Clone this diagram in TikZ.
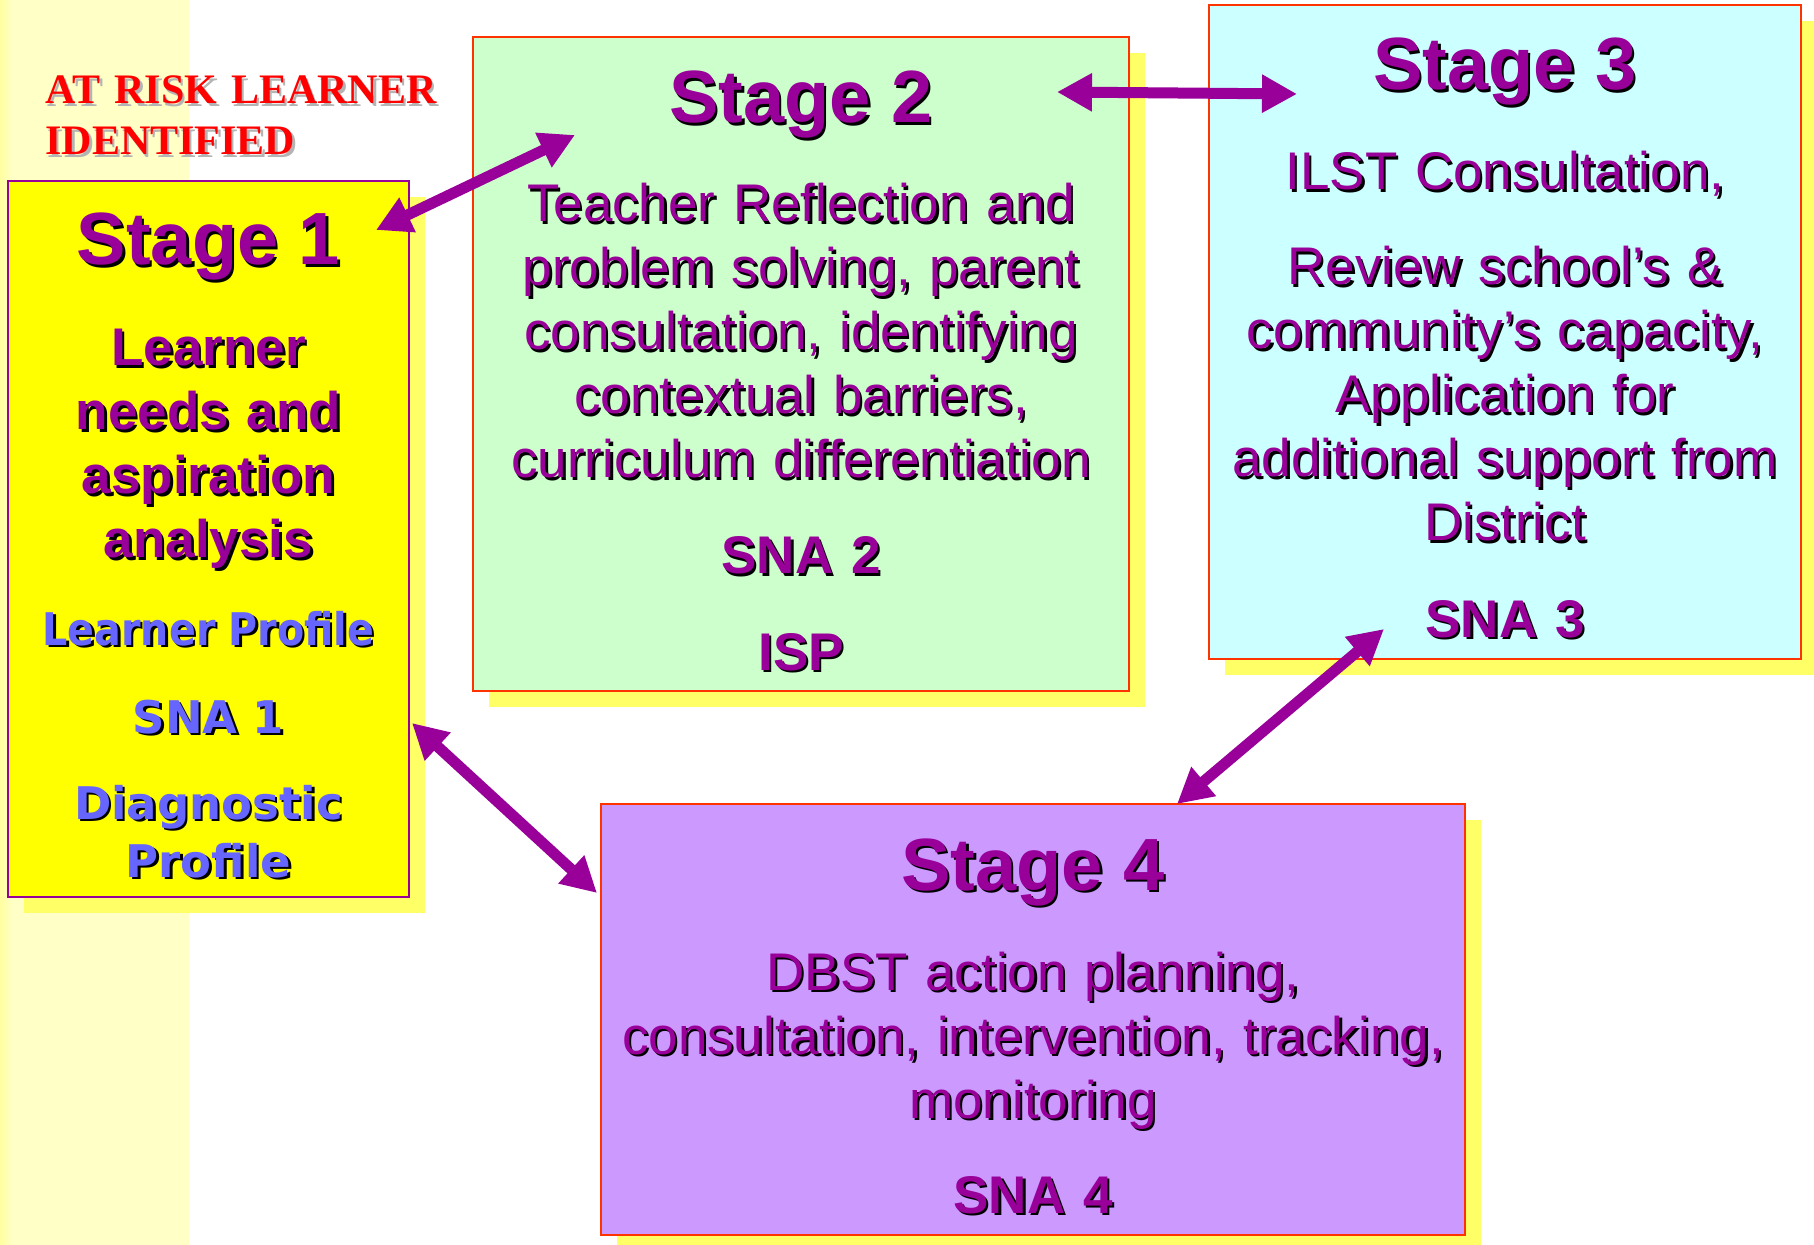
\documentclass[tikz,border=0pt]{standalone}
\usepackage{fontspec}
\setmainfont{Liberation Sans}
\newfontfamily\riskfont{Liberation Serif}
\newfontfamily\profilefont{DejaVu Sans}
\usepackage{graphicx}
\usepackage{tikz}
\usetikzlibrary{arrows.meta, shadows}
\usepackage{xcolor}
\definecolor{stagepurple}{RGB}{153,0,153}
\definecolor{profileblue}{RGB}{102,102,255}
\definecolor{borderred}{RGB}{255,51,0}
\definecolor{riskred}{RGB}{255,0,0}
\definecolor{riskshadow}{RGB}{180,180,180}
\definecolor{stageyellow}{RGB}{255,255,0}
\definecolor{stagegreen}{RGB}{204,255,204}
\definecolor{stagecyan}{RGB}{204,255,255}
\definecolor{stagelilac}{RGB}{204,153,255}
\definecolor{boxshadow}{RGB}{255,255,102}
\definecolor{stripe}{RGB}{255,255,198}
\definecolor{stripedeep}{RGB}{255,255,160}
\tikzstyle{stagebox} = [rectangle, draw=borderred, line width=1.2pt, inner sep=0pt, outer sep=0pt, drop shadow={shadow xshift=8pt, shadow yshift=-8pt, fill=boxshadow, opacity=1}]
\tikzstyle{heading} = [anchor=base, inner sep=0pt, text=stagepurple, font=\bfseries\fontsize{37}{44}\selectfont]
\tikzstyle{body} = [anchor=base, inner sep=0pt, text=stagepurple, text width=440pt, align=center, font=\fontsize{26.5}{32}\selectfont]
\tikzstyle{boldbody} = [body, font=\bfseries\fontsize{26.5}{32}\selectfont]
\tikzstyle{profile} = [body, text=profileblue, font=\profilefont\bfseries\fontsize{22.5}{29}\selectfont]
\tikzstyle{risktitle} = [anchor=base west, inner sep=0pt, text=riskred, text width=220pt, align=left, font=\riskfont\bfseries\fontsize{21}{25.5}\selectfont]
\tikzstyle{twoway} = [line width=5.5pt, draw=stagepurple, {Triangle[length=17.5pt,width=18pt]}-{Triangle[length=17.5pt,width=18pt]}]

% text with an offset shadow copy behind it: [shadow colour]{name}{position}{style}{text}
\newcommand{\shadowlabel}[5][black]{%
  \node [#4, text=#1, xshift=1.2pt, yshift=-1.2pt] at #3 {#5};
  \node (#2) [#4] at #3 {#5};
}

\begin{document}
\begin{tikzpicture}[x=0.5pt, y=-0.5pt]
\useasboundingbox (0,0) rectangle (1814,1245);
\fill[white] (0,0) rectangle (1814,1245);

% pale band on the left
\fill[stripe] (0,0) rectangle (189,1245);
\shade[left color=stripedeep, right color=stripe] (0,0) rectangle (12,1245);

\shadowlabel[riskshadow]{risk}{(45,104)}{risktitle}{AT RISK LEARNER\\IDENTIFIED}

% Stage boxes
\node (stageone) [stagebox, draw=stagepurple, fill=stageyellow, minimum width=200.5pt, minimum height=358pt] at (208.5,539) {};
\node (stagetwo) [stagebox, fill=stagegreen, minimum width=328pt, minimum height=327pt] at (801,364) {};
\node (stagethree) [stagebox, fill=stagecyan, minimum width=296pt, minimum height=327pt] at (1505,332) {};
\node (stagefour) [stagebox, fill=stagelilac, minimum width=432pt, minimum height=215.5pt] at (1033,1019.5) {};

% Stage 1
\shadowlabel{onetitle}{(208.5,265)}{heading}{Stage 1}
\shadowlabel{onetext}{(208.5,366)}{boldbody}{Learner\\needs and\\aspiration\\analysis}
\shadowlabel{oneprofile}{(208.5,645)}{profile}{\scalebox{0.88}[1]{Learner Profile}}
\shadowlabel{onesna}{(208.5,733)}{profile}{SNA 1}
\shadowlabel{onediag}{(208.5,819)}{profile}{Diagnostic\\Profile}

% Stage 2
\shadowlabel{twotitle}{(801,123)}{heading}{Stage 2}
\shadowlabel{twotext}{(801,222)}{body}{Teacher Reflection and\\problem solving, parent\\consultation, identifying\\contextual barriers,\\curriculum differentiation}
\shadowlabel{twosna}{(801,574)}{boldbody}{SNA 2}
\shadowlabel{twoisp}{(801,670)}{boldbody}{ISP}

% Stage 3
\shadowlabel{threetitle}{(1505,90)}{heading}{Stage 3}
\shadowlabel{threeilst}{(1505,190)}{body}{ILST Consultation,}
\shadowlabel{threetext}{(1505,285)}{body}{Review school’s \&\\community’s capacity,\\Application for\\additional support from\\District}
\shadowlabel{threesna}{(1505,637)}{boldbody}{SNA 3}

% Stage 4
\shadowlabel{fourtitle}{(1033,890)}{heading}{Stage 4}
\shadowlabel{fourtext}{(1033,990)}{body}{DBST action planning,\\consultation, intervention, tracking,\\monitoring}
\shadowlabel{foursna}{(1033,1213)}{boldbody}{SNA 4}

% Two-way links between the stages
\draw [twoway] ([shift={(-33,49)}]stageone.north east) -- ([shift={(102,98)}]stagetwo.north west);
\draw [twoway] ([shift={(-72,55)}]stagetwo.north east) -- ([shift={(88,89)}]stagethree.north west);
\draw [twoway] ([shift={(175,-30)}]stagethree.south west) -- ([shift={(144,0)}]stagefour.north);
\draw [twoway] ([shift={(3,184)}]stageone.east) -- ([shift={(-4,-126.5)}]stagefour.west);

\end{tikzpicture}
\end{document}
